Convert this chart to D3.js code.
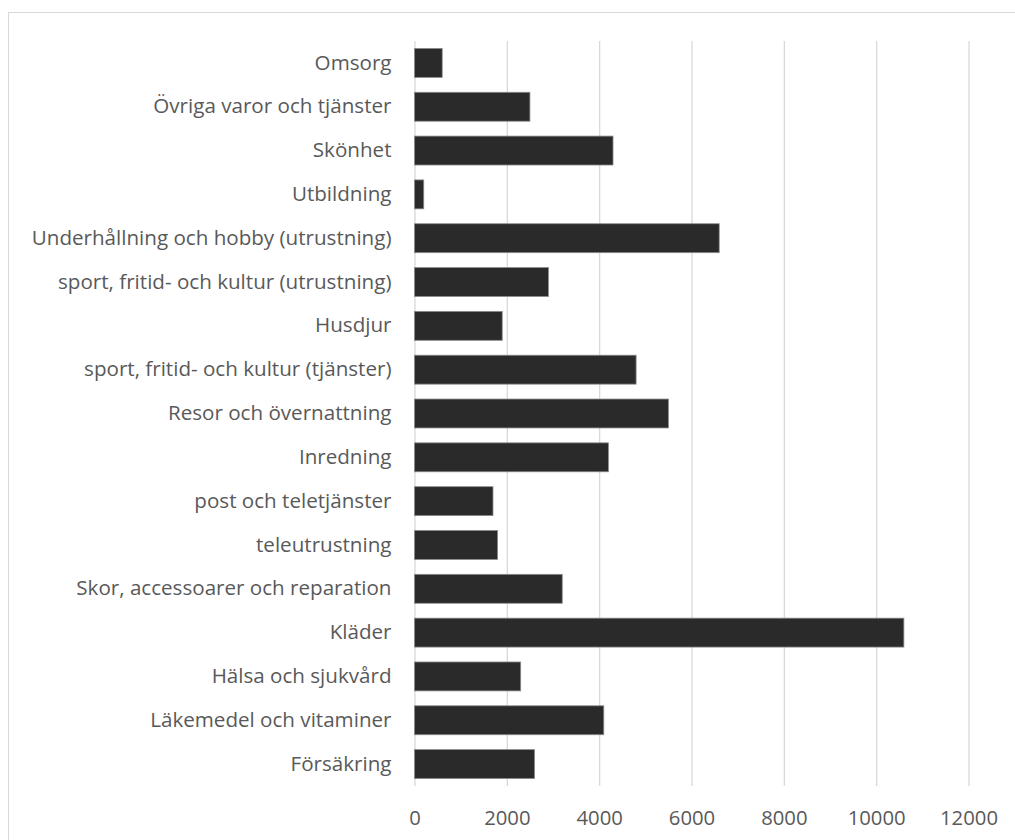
<!DOCTYPE html>
<html>
<head>
<meta charset="utf-8">
<script src="https://cdn.jsdelivr.net/npm/d3@7"></script>
<style>
  html, body { margin: 0; padding: 0; background: #fff; }
  svg { display: block; }
  text { font-family: "Open Sans", Lato, sans-serif; fill: #595959; }
</style>
</head>
<body>
<svg id="chart" width="1015" height="840"></svg>
<script>
// Categories listed top to bottom
const categories = [
  "Omsorg",
  "Övriga varor och tjänster",
  "Skönhet",
  "Utbildning",
  "Underhållning och hobby (utrustning)",
  "sport, fritid- och kultur (utrustning)",
  "Husdjur",
  "sport, fritid- och kultur (tjänster)",
  "Resor och övernattning",
  "Inredning",
  "post och teletjänster",
  "teleutrustning",
  "Skor, accessoarer och reparation",
  "Kläder",
  "Hälsa och sjukvård",
  "Läkemedel och vitaminer",
  "Försäkring"
];
const values = [600, 2500, 4300, 200, 6600, 2900, 1900, 4800, 5500, 4200, 1700, 1800, 3200, 10600, 2300, 4100, 2600];
const xTicks = [0, 2000, 4000, 6000, 8000, 10000, 12000];

const svg = d3.select("#chart");
const margin = { left: 414.5, top: 41 };
const innerW = 968.5 - margin.left;
const innerH = 786 - margin.top;

// Chart frame
svg.append("rect")
  .attr("x", 8.5).attr("y", 12.5)
  .attr("width", 1015).attr("height", 840)
  .attr("fill", "#fff").attr("stroke", "#d9d9d9").attr("stroke-width", 1);

const g = svg.append("g").attr("transform", `translate(${margin.left},${margin.top})`);

const x = d3.scaleLinear().domain([0, 12000]).range([0, innerW]);
const y = d3.scaleBand().domain(categories).range([0, innerH]).paddingInner(0.34).paddingOuter(0.17);

// Vertical gridlines
const grid = g.append("g")
  .call(d3.axisBottom(x).tickValues(xTicks).tickSize(innerH).tickFormat(""));
grid.select(".domain").remove();
grid.selectAll(".tick line").attr("stroke", "#d9d9d9").attr("stroke-width", 1.3);

// Bars
g.selectAll("rect.bar")
  .data(values)
  .join("rect")
  .attr("class", "bar")
  .attr("x", x(0))
  .attr("y", (d, i) => y(categories[i]))
  .attr("width", d => x(d))
  .attr("height", y.bandwidth())
  .attr("fill", "#2a2a2a")
  .attr("stroke", "#8a8a8a")
  .attr("stroke-width", 0.8);

// Category axis
const ya = g.append("g")
  .call(d3.axisLeft(y).tickSize(0).tickPadding(23));
ya.select(".domain").remove();
ya.selectAll("text").style("font-size", "20.6px").attr("fill", "#595959").style("font-family", "'Open Sans', sans-serif");

// Value axis labels
const xa = g.append("g")
  .attr("transform", `translate(0,${innerH})`)
  .call(d3.axisBottom(x).tickValues(xTicks).tickSize(0).tickPadding(25).tickFormat(d3.format("d")));
xa.select(".domain").remove();
xa.selectAll("text").style("font-size", "20.3px").attr("fill", "#595959").style("font-family", "'Open Sans', sans-serif");
</script>
</body>
</html>
